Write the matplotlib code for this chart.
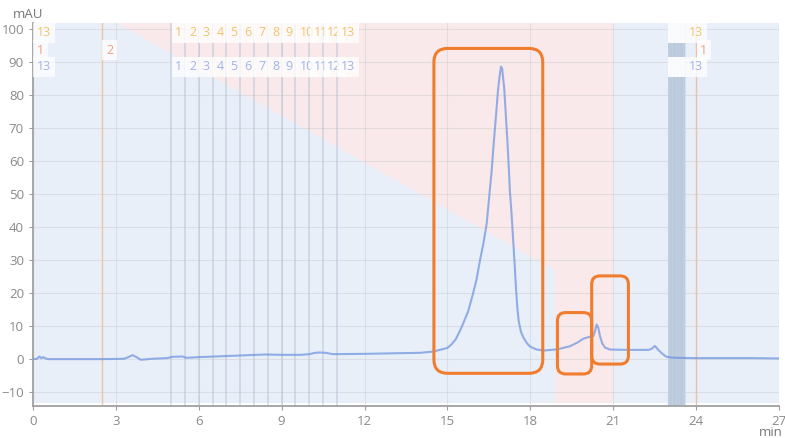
import matplotlib
matplotlib.use("Agg")
import matplotlib.pyplot as plt
from matplotlib.patches import FancyBboxPatch, Polygon, Rectangle

plt.rcParams['font.family'] = ['Open Sans', 'DejaVu Sans']

# chromatogram trace (min, mAU)
time_min = [0, 0.15, 0.23, 0.3, 0.37, 0.45, 0.55, 1.5, 2.5, 3.3, 3.45, 3.6, 3.75, 3.9,
            4.3, 4.85, 5.05, 5.4, 5.55, 6.0, 7.2, 8.4, 9.0, 9.7, 10.0, 10.2, 10.4, 10.6,
            10.85, 12.0, 13.3, 14.0, 14.5, 15.0, 15.15, 15.3, 15.45, 15.58, 15.75, 15.93,
            16.05, 16.18, 16.3, 16.42, 16.52, 16.6, 16.68, 16.76, 16.83, 16.9, 16.94,
            16.98, 17.06, 17.12, 17.17, 17.22, 17.26, 17.32, 17.38, 17.43, 17.48, 17.53,
            17.58, 17.66, 17.75, 17.88, 17.99, 18.23, 18.5, 19.0, 19.43, 19.7, 19.92, 20.16,
            20.28, 20.34, 20.4, 20.46, 20.52, 20.6, 20.7, 20.88, 21.5, 22.3, 22.42, 22.51,
            22.63, 22.78, 22.93, 23.2, 24, 25, 26, 27]
absorb = [0.0, 0.1, 0.8, 0.3, 0.6, 0.2, 0.0, 0.0, 0.0, 0.1, 0.6, 1.2, 0.6, -0.2,
          0.1, 0.3, 0.7, 0.8, 0.4, 0.6, 1.0, 1.4, 1.3, 1.3, 1.5, 1.9, 2.0, 1.9,
          1.5, 1.6, 1.8, 1.9, 2.3, 3.4, 4.5, 6.0, 8.5, 11.0, 14.5, 20.0,
          24.0, 30.0, 35.0, 41.0, 50.0, 57.0, 66.0, 74.0, 81.5, 86.5, 88.6,
          88.0, 81.5, 73.0, 66.0, 58.0, 51.0, 44.0, 36.0, 29.0, 21.5, 15.5,
          11.5, 8.3, 6.5, 4.8, 3.8, 2.9, 2.6, 3.0, 3.9, 5.0, 6.2, 6.8,
          7.0, 8.5, 10.5, 9.5, 7.0, 4.8, 3.5, 2.9, 2.8, 2.8, 3.3, 4.0,
          2.8, 1.6, 0.7, 0.4, 0.3, 0.3, 0.3, 0.2]

# gradient shading (blue / pink)
grad_start = 3.04
grad_end = 18.9
grad_end_level = 27.0
pink_end = 21.0

# event markers
fraction_times = [5.0, 5.5, 6.0, 6.5, 7.0, 7.5, 8.0, 8.5, 9.0, 9.5, 10.0, 10.5, 11.0]
fraction_labels = [str(i) for i in range(1, 14)]
band_times = [23.0, 23.05, 23.1, 23.15, 23.2, 23.25, 23.3, 23.35, 23.4, 23.45, 23.5, 23.55, 23.6]
band_labels = [str(i) for i in range(1, 14)]
inject_times = [0.0, 2.5, 24.0]
inject_labels = ['1', '2', '1']

# highlight boxes: (x0, x1, y0, y1, corner radius in min)
boxes = [(14.51, 18.45, -4.3, 94.1, 0.5),
         (18.98, 20.22, -4.5, 14.1, 0.3),
         (20.22, 21.55, -1.5, 25.2, 0.3)]

y_lo, y_hi = -14.2, 101.8
shade_lo = -13.3

fig = plt.figure(figsize=(7.85, 4.38), dpi=100)
ax = fig.add_axes([33 / 785, 32 / 438, 746 / 785, 383 / 438])
ax.set_xlim(0, 27)
ax.set_ylim(y_lo, y_hi)

# background
ax.fill_between([0, 27], shade_lo, y_hi, color='#e8eff9', lw=0, zorder=0)
pink = Polygon([(grad_start, y_hi), (pink_end, y_hi), (pink_end, shade_lo),
                (grad_end, shade_lo), (grad_end, grad_end_level)],
               closed=True, facecolor='#f9e9ea', edgecolor='none', zorder=0.5)
ax.add_patch(pink)

ax.set_xticks(range(0, 28, 3))
ax.set_yticks(range(-10, 101, 10))
ax.grid(True, color='#c8c8c8', alpha=0.4, lw=0.8, zorder=1)
ax.set_axisbelow(True)

# event lines
for t in fraction_times:
    ax.axvline(t, color='#b3c1d6', alpha=0.6, lw=1.1, zorder=1.5)
ax.axvspan(band_times[0], band_times[-1], color='#c4d1e2', lw=0, zorder=1.4)
for t in band_times:
    ax.axvline(t, color='#a9bbd3', alpha=0.25, lw=0.8, zorder=1.5)
for t in inject_times[1:]:
    ax.axvline(t, color='#f3b894', alpha=0.8, lw=1.0, zorder=1.5)

# trace
ax.plot(time_min, absorb, color='#6f93e0', alpha=0.72, lw=1.5, zorder=3)

# labels
row_gold, row_orange, row_blue = 98.8, 93.6, 88.5
gold, orange, blue = '#f1c46c', '#f2a276', '#9fb4ea'


def put_label(x, y, s, c, z):
    ax.annotate(s, (x, y), xytext=(3, 0), textcoords='offset points',
                ha='left', va='center', fontsize=9, color=c, zorder=z,
                bbox=dict(boxstyle='square,pad=0.3', fc='white', ec='none', alpha=0.75))


z = 5
for t, s in zip(fraction_times, fraction_labels):
    put_label(t, row_gold, s, gold, z)
    put_label(t, row_blue, s, blue, z)
    z += 0.01
# the band labels stack on top of each other; only the last one shows
for row in [row_gold, row_blue]:
    ax.add_patch(Rectangle((band_times[0], row - 3.0), band_times[-1] - band_times[0], 6.0,
                           facecolor='white', edgecolor='none', alpha=0.92, zorder=4.9))
put_label(band_times[-1], row_gold, band_labels[-1], gold, z)
put_label(band_times[-1], row_blue, band_labels[-1], blue, z)
put_label(0, row_gold, '13', gold, z)
put_label(0, row_blue, '13', blue, z)
for t, s in zip(inject_times, inject_labels):
    put_label(t, row_orange, s, orange, z)

# highlight boxes, rounded in pixel space
p0 = ax.transData.transform((0, 0))
p1 = ax.transData.transform((1, 1))
aspect = (p1[0] - p0[0]) / (p1[1] - p0[1])
for x0, x1, y0, y1, r in boxes:
    ax.add_patch(FancyBboxPatch((x0, y0), x1 - x0, y1 - y0,
                                boxstyle='round,pad=0,rounding_size=%s' % r,
                                mutation_aspect=aspect, fill=False,
                                edgecolor='#f07d2e', lw=2.2, zorder=6))

# axes styling
for side in ['top', 'right']:
    ax.spines[side].set_visible(False)
for side in ['left', 'bottom']:
    ax.spines[side].set_color('#a0a0a0')
    ax.spines[side].set_linewidth(1.3)
ax.tick_params(colors='#a0a0a0', labelcolor='#8a8a8a', labelsize=9.5, length=3)

fig.text(28 / 785, 1 - 15 / 438, 'mAU', ha='center', va='center', fontsize=9.5, color='#777777')
fig.text(771 / 785, 1 - 433 / 438, 'min', ha='center', va='center', fontsize=9.5, color='#777777')

fig.savefig('out.png', dpi=100)
